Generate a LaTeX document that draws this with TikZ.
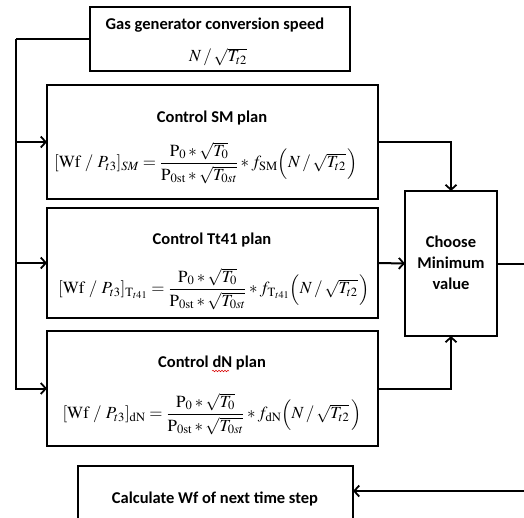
\documentclass[tikz,border=0pt]{standalone}
\usepackage{amsmath}
\usepackage{mathptmx}
\usepackage{fontspec}
\setmainfont{Liberation Serif}
\newfontfamily\calibri{Carlito}
\usetikzlibrary{arrows.meta,decorations.pathmorphing}

\tikzset{
  box/.style={draw, line width=2pt, inner sep=0pt, outer sep=0pt, anchor=north west},
  ttl/.style={font=\calibri\bfseries\fontsize{16.5}{21}\selectfont, inner sep=0pt, align=center},
  fml/.style={font=\fontsize{17}{19}\selectfont, inner sep=0pt},
  conn/.style={line width=2pt},
  arr/.style={conn, -{Straight Barb[length=5pt,width=11pt,line width=1.8pt]}}
}

\begin{document}
\begin{tikzpicture}[x=1pt,y=-1pt]
\useasboundingbox (0,0) rectangle (524,517);
\fill[white] (0,0) rectangle (524,517);
\clip (0,0) rectangle (524,517);

% blocks
\node[box, minimum width=260pt, minimum height=64pt]  (top)    at (90,7)   {};
\node[box, minimum width=331pt, minimum height=114pt] (sm)     at (47,85)  {};
\node[box, minimum width=331pt, minimum height=110pt] (tt)     at (47,208) {};
\node[box, minimum width=331pt, minimum height=115pt] (dn)     at (47,331) {};
\node[box, minimum width=92pt,  minimum height=145pt] (choose) at (405,191) {};
\node[box, minimum width=275pt, minimum height=80pt]  (calc)   at (78,466) {};

% texts
\node[ttl] (topT) at (215,25) {Gas generator conversion speed};
\node[fml] (topF) at (218,57) {$N\,/\,\sqrt{T_{t2}}$};

\node[ttl] (smT) at (212,118) {Control SM plan};
\node[fml] (smF) at (206,163) {$[\mathrm{Wf}\ /\ P_{t3}]_{SM}=\dfrac{\mathrm{P}_0*\sqrt{T_0}}{\mathrm{P}_{0\mathrm{st}}*\sqrt{T_{0st}}}*f_{\mathrm{SM}}\Big(N\,/\,\sqrt{T_{t2}}\,\Big)$};

\node[ttl] (ttT) at (212,240) {Control Tt41 plan};
\node[fml] (ttF) at (214,289) {$[\mathrm{Wf}\ /\ P_{t3}]_{\mathrm{T}_{t41}}=\dfrac{\mathrm{P}_0*\sqrt{T_0}}{\mathrm{P}_{0\mathrm{st}}*\sqrt{T_{0st}}}*f_{\mathrm{T}_{t41}}\Big(N\,/\,\sqrt{T_{t2}}\,\Big)$};

\node[ttl] (dnT) at (212,363) {Control dN plan};
\node[fml] (dnF) at (212,414) {$[\mathrm{Wf}\ /\ P_{t3}]_{\mathrm{dN}}=\dfrac{\mathrm{P}_0*\sqrt{T_0}}{\mathrm{P}_{0\mathrm{st}}*\sqrt{T_{0st}}}*f_{\mathrm{dN}}\Big(N\,/\,\sqrt{T_{t2}}\,\Big)$};
% spell-check squiggle under "dN"
\draw[red!85!black, line width=0.5pt, decorate, decoration={snake, amplitude=0.8pt, segment length=3pt}]
  (212,371) -- (229,371);

\node[ttl] (chT) at (451,263) {Choose\\Minimum\\value};

\node[ttl] (calcT) at (215,499) {Calculate Wf of next time step};

% connectors
\coordinate (bus) at (16,39);
\coordinate (ret) at (545,491);
\draw[conn] (top.west) -- (bus);
\draw[arr] (bus) |- (sm.west);
\draw[arr] (bus) |- (tt.west);
\draw[arr] (bus) |- (dn.west);
\draw[arr] (sm.east) -| (choose.north);
\draw[arr] (tt.east) -- (choose.west);
\draw[arr] (dn.east) -| (choose.south);
\draw[arr] (choose.east) -| (ret) -- (calc.east |- ret);
\end{tikzpicture}
\end{document}
